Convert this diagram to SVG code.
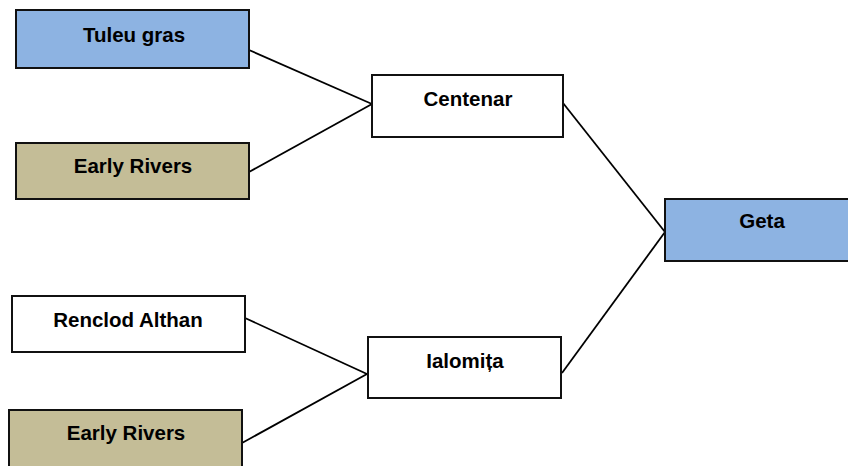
<svg xmlns="http://www.w3.org/2000/svg" width="848" height="466" viewBox="0 0 848 466">
<style>
.box{stroke:#111;stroke-width:2}
.blue{fill:#8db3e2}
.tan{fill:#c4bd97}
.white{fill:#fff}
text{font-family:"Liberation Sans",Arial,sans-serif;font-weight:bold;font-size:20.5px;fill:#000;text-anchor:middle}
.conn line{stroke:#000;stroke-width:1.8}
</style>
<rect width="848" height="466" fill="#fff"/>
<g id="connectors" class="conn">
<line x1="249" y1="50" x2="372" y2="104"/>
<line x1="249" y1="172" x2="372" y2="104"/>
<line x1="563" y1="103" x2="665" y2="232"/>
<line x1="562" y1="373" x2="665" y2="232"/>
<line x1="245" y1="318" x2="367" y2="374"/>
<line x1="242" y1="443" x2="367" y2="374"/>
</g>
<g id="tuleu-gras"><rect class="box blue" x="16" y="10" width="233" height="58"/><text x="134" y="42">Tuleu gras</text></g>
<g id="early-rivers-1"><rect class="box tan" x="16" y="143" width="233" height="56"/><text x="133" y="173">Early Rivers</text></g>
<g id="centenar"><rect class="box white" x="372" y="75" width="191" height="62"/><text x="468" y="106">Centenar</text></g>
<g id="geta"><rect class="box blue" x="665" y="199" width="190" height="62"/><text x="762" y="228">Geta</text></g>
<g id="renclod-althan"><rect class="box white" x="12" y="296" width="233" height="56"/><text x="128" y="327">Renclod Althan</text></g>
<g id="early-rivers-2"><rect class="box tan" x="9" y="410" width="233" height="60"/><text x="126" y="440">Early Rivers</text></g>
<g id="ialomita"><rect class="box white" x="368" y="337" width="193" height="61"/><text x="465" y="368">Ialomița</text></g>
</svg>
